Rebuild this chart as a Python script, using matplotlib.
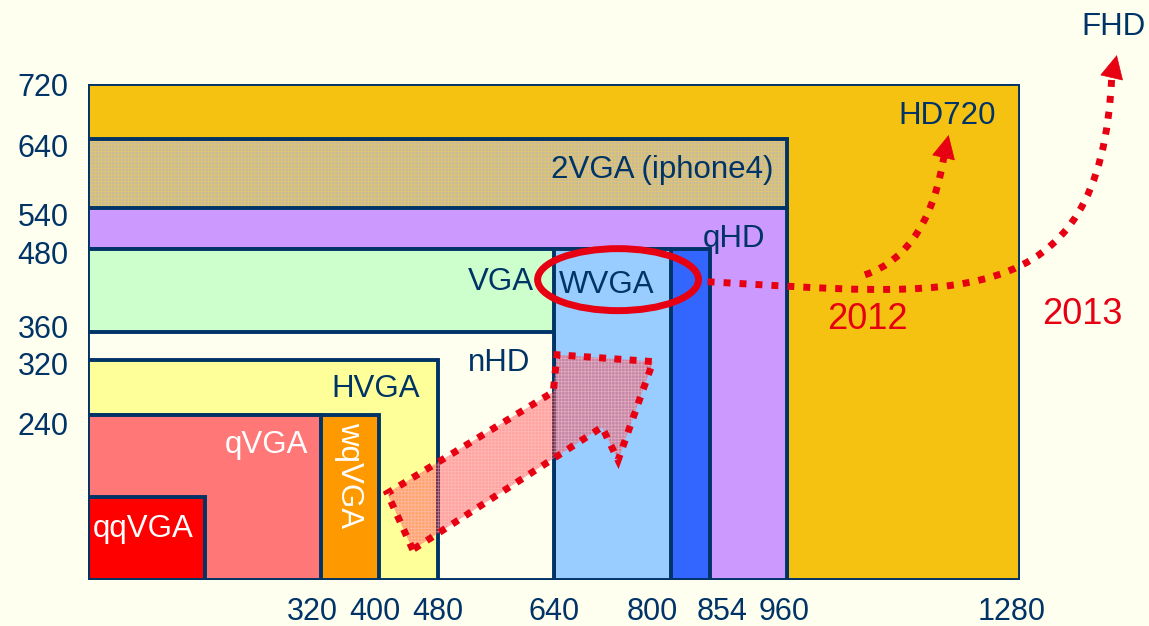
import matplotlib
matplotlib.use('Agg')
import matplotlib.pyplot as plt
from matplotlib.patches import Ellipse, Polygon, PathPatch
from matplotlib.path import Path
from matplotlib.transforms import ScaledTranslation

plt.rcParams['font.family'] = ['Liberation Sans', 'DejaVu Sans']
plt.rcParams['hatch.linewidth'] = 0.6

# 分辨率（宽 x 高），从大到小绘制
names = ['HD720', '2VGA (iphone4)', 'qHD', 'FWVGA', 'WVGA', 'VGA', 'nHD',
         'HVGA', 'wqVGA', 'qVGA', 'qqVGA']
widths = [1280, 960, 960, 854, 800, 640, 640, 480, 400, 320, 160]
heights = [720, 640, 540, 480, 480, 480, 360, 320, 240, 240, 120]
colors = ['#F5C211', '#C6BA9F', '#CC99FF', '#3366FF', '#99CCFF', '#CCFFCC',
          '#FFFFF0', '#FFFF99', '#FF9900', '#FF7777', '#FF0000']

xticks = [320, 400, 480, 640, 800, 854, 960, 1280]
yticks = [240, 320, 360, 480, 540, 640, 720]

navy = '#003366'
red = '#E60012'
bg = '#FFFFF0'

fig = plt.figure(figsize=(11.49, 6.26), dpi=100, facecolor=bg)
ax = fig.add_axes([88 / 1149, 46 / 626, 932 / 1149, 496 / 626])
ax.set_facecolor(bg)

for name, w, h, c in zip(names, widths, heights, colors):
    if name.startswith('2VGA'):
        # 网格纹理
        ax.bar(0, h, width=w, align='edge', color=c, edgecolor='#E2C66A',
               hatch='+++++', linewidth=0)
        ax.bar(0, h, width=w, align='edge', fill=False, edgecolor=navy,
               linewidth=2.8)
    else:
        ax.bar(0, h, width=w, align='edge', color=c, edgecolor=navy,
               linewidth=2.8)

ax.set_xlim(0, 1280)
ax.set_ylim(0, 720)
ax.set_xticks(xticks)
ax.set_yticks(yticks)
ax.tick_params(length=0, labelsize=22, labelcolor=navy)
ax.tick_params(axis='x', pad=12)
ax.tick_params(axis='y', pad=14)
for s in ax.spines.values():
    s.set_visible(False)

# 刻度文字的手动微调（像素），与原图排版一致
x_shift = [-9, -4, 0, 0, -18, 12, -3, -8]
y_shift = [-9, -4, 5, -3, -6, -6, 0]
for lab, dx in zip(ax.get_xticklabels(), x_shift):
    lab.set_transform(lab.get_transform() + ScaledTranslation(dx / 100, 0, fig.dpi_scale_trans))
for lab, dy in zip(ax.get_yticklabels(), y_shift):
    lab.set_transform(lab.get_transform() + ScaledTranslation(0, dy / 100, fig.dpi_scale_trans))

# 标签
fs = 22.5
ax.text(1247, 662, 'HD720', ha='right', va='baseline', fontsize=fs, color=navy)
ax.text(941, 583, '2VGA (iphone4)', ha='right', va='baseline', fontsize=fs, color=navy)
ax.text(930, 483, 'qHD', ha='right', va='baseline', fontsize=fs, color=navy)
ax.text(612, 421, 'VGA', ha='right', va='baseline', fontsize=fs, color=navy)
ax.text(712, 417, 'WVGA', ha='center', va='baseline', fontsize=fs, color=navy)
ax.text(564, 304, 'nHD', ha='center', va='baseline', fontsize=fs, color=navy)
ax.text(456, 266, 'HVGA', ha='right', va='baseline', fontsize=fs, color=navy)
ax.text(303, 184, 'qVGA', ha='right', va='baseline', fontsize=fs, color='white')
ax.text(7, 62, 'qqVGA', ha='left', va='baseline', fontsize=fs, color='white')
ax.text(358, 152, 'wqVGA', ha='center', va='center', rotation=270,
        fontsize=fs, color='white')
ax.text(1070, 364, '2012', ha='center', va='baseline', fontsize=26, color=red)
ax.text(1366, 371, '2013', ha='center', va='baseline', fontsize=26, color=red)
ax.text(1408, 791, 'FHD', ha='center', va='baseline', fontsize=fs, color=navy,
        clip_on=False)

# 大箭头（虚线边框 + 半透明网格填充）
arrow_pts = [(446, 44), (411, 126), (639, 273), (644, 327), (776, 317),
             (728, 174), (706, 222)]
ax.add_patch(Polygon(arrow_pts, closed=True, facecolor=(1, 0.15, 0.2, 0.42),
                     edgecolor=(1, 0.8, 0.8, 0.5), hatch='+++++', linewidth=0))
ax.add_patch(Polygon(arrow_pts, closed=True, fill=False, edgecolor=red,
                     linewidth=5, linestyle=(0, (1, 1.2))))

# WVGA 红圈
ax.add_patch(Ellipse((728, 436), 221, 90, fill=False, edgecolor=red, linewidth=5))

# 趋势虚线
dots = (0, (1, 1.3))
p1 = Path([(851, 433), (1184, 414), (1390, 377), (1406, 730)],
          [Path.MOVETO, Path.CURVE4, Path.CURVE4, Path.CURVE4])
p2 = Path([(1067, 443), (1129, 465), (1163, 530), (1176, 618)],
          [Path.MOVETO, Path.CURVE4, Path.CURVE4, Path.CURVE4])
for p in (p1, p2):
    ax.add_patch(PathPatch(p, fill=False, edgecolor=red, linewidth=5,
                           linestyle=dots, capstyle='butt', clip_on=False))

head = dict(arrowstyle='-|>,head_length=0.8,head_width=0.4', color=red,
            mutation_scale=20, shrinkA=0, shrinkB=0, linewidth=0.5)
ax.annotate('', xy=(1413, 762), xytext=(1406, 730), arrowprops=head,
            annotation_clip=False)
ax.annotate('', xy=(1182, 646), xytext=(1176, 618), arrowprops=head,
            annotation_clip=False)

fig.savefig('out.png', dpi=100, facecolor=bg)
